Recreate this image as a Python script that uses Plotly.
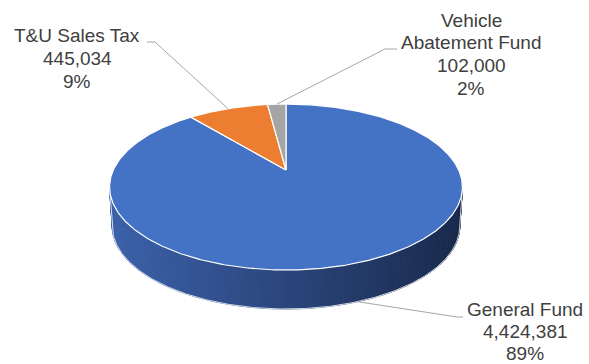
import math
import plotly.graph_objects as go

# ---- data ----
categories = ["General Fund", "T&U Sales Tax", "Vehicle Abatement Fund"]
amounts = [4424381, 445034, 102000]
label_lines = [["General Fund"], ["T&U Sales Tax"], ["Vehicle", "Abatement Fund"]]
slice_colors = ["#4472C4", "#ED7D31", "#A5A5A5"]

# ---- layout of the 3-D pie (pixel space) ----
W, H = 589, 364
CX, CY = 286.0, 170.0          # projected centre of the top face
A, B, K = 172.7, 79.5, 0.205   # horizontal radius, vertical radius, perspective factor
DEPTH = 39.0                   # thickness of the disc
BOTTOM_SHRINK = 0.985
SIDE_LEFT = (0x3C, 0x62, 0xAB)
SIDE_RIGHT = (0x19, 0x29, 0x4B)
TEXT_COLOR = "#404040"
LEADER_COLOR = "#A6A6A6"
FONT = "Liberation Sans, Arial, sans-serif"
FONT_SIZE = 19

# label placement: (centre x, first line y, line step) and leader elbows
label_pos = [(525, 309, 22.3), (77, 35, 23), (471, 20, 22.7)]
leader_elbows = [[(457, 317), (463, 317)], [(155, 42), (147, 42)], [(385, 49), (397, 49)]]


def project(theta_deg, drop=0.0):
    """Map an angle (clockwise from 12 o'clock) on the disc rim to screen pixels."""
    t = math.radians(theta_deg)
    u, v = math.sin(t), math.cos(t)
    d = 1 + K * v
    x = CX + A * u / d
    y = CY - B * v / d
    if drop:
        x = CX + (x - CX) * BOTTOM_SHRINK
        y += drop
    return x, y


def arc(t0, t1, drop=0.0, step=1.0):
    n = max(2, int(abs(t1 - t0) / step) + 1)
    return [project(t0 + (t1 - t0) * i / (n - 1), drop) for i in range(n)]


total = sum(amounts)
fractions = [a / total for a in amounts]
starts, ang = [], 0.0
for f in fractions:
    starts.append(ang)
    ang += f * 360.0
ends = [s + f * 360.0 for s, f in zip(starts, fractions)]

fig = go.Figure()

# ---- side wall (front half of the disc, shaded left to right) ----
t_edge = math.degrees(math.acos(-K))
t_lo, t_hi = t_edge, 360.0 - t_edge
xl = project(t_hi)[0]
xr = project(t_lo)[0]
N = 120
for i in range(N):
    a0 = t_lo + (t_hi - t_lo) * i / N
    a1 = t_lo + (t_hi - t_lo) * (i + 1) / N
    top = arc(a0, a1, 0, 0.5)
    bot = arc(a1, a0, DEPTH, 0.5)
    pts = top + bot
    xm = sum(p[0] for p in pts) / len(pts)
    s = min(1, max(0, (xm - xl) / (xr - xl)))
    c = tuple(round(SIDE_LEFT[j] + (SIDE_RIGHT[j] - SIDE_LEFT[j]) * s) for j in range(3))
    col = "rgb(%d,%d,%d)" % c
    fig.add_trace(go.Scatter(
        x=[p[0] for p in pts] + [pts[0][0]], y=[p[1] for p in pts] + [pts[0][1]],
        mode="lines", fill="toself", fillcolor=col,
        line=dict(color=col, width=1), hoverinfo="skip", showlegend=False))

# light outline along the side wall
outline = [project(t_hi)] + [project(t_hi, DEPTH)] + arc(t_hi, t_lo, DEPTH, 0.5)[1:] + [project(t_lo)]
fig.add_trace(go.Scatter(
    x=[p[0] for p in outline], y=[p[1] for p in outline], mode="lines",
    line=dict(color="rgba(255,255,255,0.8)", width=1), hoverinfo="skip", showlegend=False))

# ---- top face slices ----
for name, s, e, col in zip(categories, starts, ends, slice_colors):
    pts = [(CX, CY)] + arc(s, e, 0, 0.5) + [(CX, CY)]
    fig.add_trace(go.Scatter(
        x=[p[0] for p in pts], y=[p[1] for p in pts], mode="lines",
        fill="toself", fillcolor=col, line=dict(color="white", width=1.2),
        name=name, hoverinfo="skip", showlegend=False))

# ---- leader lines and labels ----
for i, (name, amt, f) in enumerate(zip(categories, amounts, fractions)):
    mid = starts[i] + f * 180.0
    # labels for slices on the near side hang from the bottom rim
    drop = DEPTH if math.cos(math.radians(mid)) < 0 else 0.0
    anchor = project(mid, drop)
    path = [anchor] + leader_elbows[i]
    fig.add_trace(go.Scatter(
        x=[p[0] for p in path], y=[p[1] for p in path], mode="lines",
        line=dict(color=LEADER_COLOR, width=1), hoverinfo="skip", showlegend=False))

    lines = label_lines[i] + [f"{amt:,}", f"{round(f * 100)}%"]
    lx, ly, step = label_pos[i]
    for j, txt in enumerate(lines):
        fig.add_annotation(
            x=lx, y=ly + j * step, text=txt, showarrow=False,
            xanchor="center", yanchor="middle", borderpad=0,
            font=dict(family=FONT, size=FONT_SIZE, color=TEXT_COLOR))

fig.update_layout(
    width=W, height=H, margin=dict(l=0, r=0, t=0, b=0),
    paper_bgcolor="white", plot_bgcolor="white",
    xaxis=dict(range=[0, W], visible=False, fixedrange=True),
    yaxis=dict(range=[H, 0], visible=False, fixedrange=True),
)

fig.write_html("out.html")
